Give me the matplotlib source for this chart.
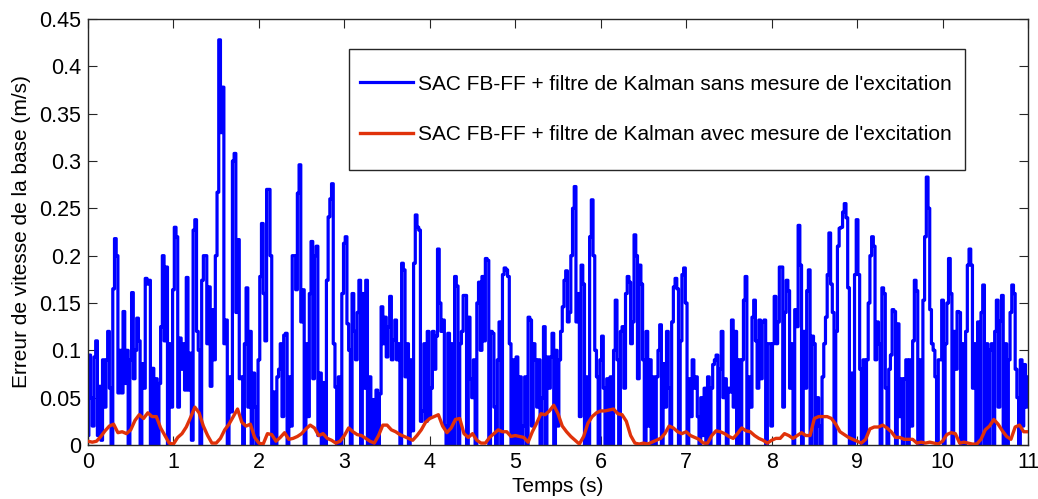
import numpy as np
import matplotlib
matplotlib.use("Agg")
import matplotlib.pyplot as plt
from matplotlib.patches import Rectangle

plt.rcParams['font.family'] = ['Liberation Sans', 'DejaVu Sans']

# Sampling steps of the two traces (s)
DT_BLUE = 0.02
DT_RED = 0.05

# Base velocity error without excitation measurement (m/s), one row per half second
err_sans = [
    0.01, 0.095, 0.05, 0.02, 0.093, 0.11, 0.01, 0.062, 0.005, 0.09, 0.04, 0.09, 0.12, 0.06, 0.0, 0.165, 0.218, 0.2, 0.055, 0.1, 0.055, 0.141, 0.065, 0.1, 0.0,
    0.09, 0.161, 0.07, 0.1, 0.134, 0.11, 0.0, 0.086, 0.06, 0.176, 0.17, 0.174, 0.0, 0.081, 0.0, 0.07, 0.0, 0.065, 0.125, 0.2, 0.11, 0.188, 0.0, 0.107, 0.04,
    0.164, 0.23, 0.22, 0.04, 0.113, 0.08, 0.107, 0.058, 0.177, 0.058, 0.097, 0.005, 0.227, 0.238, 0.12, 0.1, 0.0, 0.174, 0.2, 0.2, 0.107, 0.167, 0.062, 0.143, 0.09,
    0.2, 0.267, 0.428, 0.33, 0.378, 0.107, 0.132, 0.0, 0.072, 0.035, 0.3, 0.308, 0.14, 0.217, 0.07, 0.072, 0.0, 0.107, 0.166, 0.04, 0.12, 0.0, 0.076, 0.04, 0.0,
    0.09, 0.178, 0.234, 0.16, 0.11, 0.27, 0.27, 0.2, 0.0, 0.056, 0.0, 0.072, 0.08, 0.107, 0.03, 0.116, 0.118, 0.0, 0.072, 0.02, 0.2, 0.2, 0.164, 0.266, 0.296,
    0.13, 0.164, 0.0, 0.107, 0.03, 0.16, 0.215, 0.07, 0.2, 0.21, 0.01, 0.076, 0.0, 0.066, 0.0, 0.174, 0.241, 0.26, 0.276, 0.107, 0.061, 0.0, 0.072, 0.0, 0.16,
    0.213, 0.22, 0.128, 0.1, 0.0, 0.16, 0.12, 0.09, 0.14, 0.174, 0.0, 0.16, 0.06, 0.174, 0.0, 0.072, 0.0, 0.048, 0.0, 0.058, 0.0, 0.054, 0.146, 0.107, 0.135,
    0.093, 0.125, 0.157, 0.09, 0.111, 0.132, 0.09, 0.107, 0.0, 0.192, 0.185, 0.072, 0.107, 0.0, 0.09, 0.015, 0.192, 0.243, 0.23, 0.227, 0.025, 0.036, 0.107, 0.025, 0.12,
    0.03, 0.06, 0.12, 0.08, 0.115, 0.207, 0.15, 0.12, 0.132, 0.02, 0.0, 0.118, 0.0, 0.107, 0.0, 0.178, 0.168, 0.0, 0.107, 0.12, 0.158, 0.158, 0.0, 0.135, 0.07,
    0.05, 0.09, 0.0, 0.15, 0.172, 0.1, 0.178, 0.11, 0.197, 0.195, 0.0, 0.12, 0.118, 0.04, 0.0, 0.09, 0.13, 0.0, 0.18, 0.187, 0.185, 0.178, 0.107, 0.0, 0.09,
    0.0, 0.093, 0.0, 0.072, 0.0, 0.02, 0.072, 0.0, 0.135, 0.132, 0.02, 0.107, 0.09, 0.04, 0.09, 0.0, 0.05, 0.125, 0.0, 0.093, 0.06, 0.093, 0.118, 0.0, 0.1,
    0.02, 0.09, 0.12, 0.146, 0.174, 0.184, 0.13, 0.14, 0.2, 0.25, 0.273, 0.13, 0.16, 0.03, 0.19, 0.17, 0.0, 0.072, 0.0, 0.22, 0.259, 0.2, 0.1, 0.072, 0.0,
    0.09, 0.115, 0.06, 0.0, 0.07, 0.0, 0.072, 0.0, 0.1, 0.153, 0.09, 0.0, 0.12, 0.125, 0.06, 0.16, 0.178, 0.172, 0.107, 0.13, 0.222, 0.2, 0.07, 0.19, 0.17,
    0.09, 0.0, 0.12, 0.02, 0.09, 0.0, 0.072, 0.0, 0.072, 0.1, 0.127, 0.0, 0.086, 0.04, 0.12, 0.06, 0.0, 0.13, 0.167, 0.176, 0.165, 0.0, 0.11, 0.18, 0.187,
    0.15, 0.0, 0.07, 0.03, 0.09, 0.06, 0.072, 0.03, 0.0, 0.05, 0.01, 0.06, 0.0, 0.072, 0.0, 0.06, 0.085, 0.09, 0.095, 0.0, 0.08, 0.12, 0.05, 0.07, 0.0,
    0.06, 0.056, 0.132, 0.04, 0.12, 0.0, 0.09, 0.0, 0.09, 0.153, 0.178, 0.0, 0.072, 0.04, 0.135, 0.153, 0.11, 0.06, 0.132, 0.07, 0.13, 0.132, 0.0, 0.107, 0.107,
    0.02, 0.107, 0.157, 0.107, 0.13, 0.188, 0.188, 0.04, 0.14, 0.174, 0.163, 0.06, 0.107, 0.0, 0.143, 0.125, 0.232, 0.19, 0.0, 0.12, 0.06, 0.163, 0.185, 0.0, 0.115,
    0.107, 0.0, 0.05, 0.02, 0.0, 0.072, 0.107, 0.135, 0.18, 0.224, 0.17, 0.14, 0.0, 0.12, 0.21, 0.229, 0.23, 0.246, 0.255, 0.24, 0.166, 0.0, 0.076, 0.0, 0.18,
    0.238, 0.18, 0.08, 0.0, 0.09, 0.0, 0.09, 0.15, 0.2, 0.22, 0.21, 0.09, 0.13, 0.107, 0.0, 0.166, 0.16, 0.06, 0.0, 0.08, 0.095, 0.143, 0.141, 0.0, 0.128,
    0.03, 0.07, 0.0, 0.07, 0.09, 0.0, 0.09, 0.02, 0.11, 0.174, 0.163, 0.0, 0.09, 0.0, 0.153, 0.22, 0.283, 0.25, 0.143, 0.107, 0.1, 0.072, 0.0, 0.09, 0.09,
    0.153, 0.0, 0.107, 0.15, 0.197, 0.16, 0.0, 0.12, 0.08, 0.141, 0.14, 0.0, 0.107, 0.0, 0.12, 0.19, 0.207, 0.19, 0.06, 0.107, 0.0, 0.13, 0.0, 0.14, 0.169,
    0.0, 0.107, 0.0, 0.1, 0.107, 0.0, 0.12, 0.153, 0.04, 0.131, 0.158, 0.0, 0.107, 0.0, 0.09, 0.14, 0.169, 0.16, 0.08, 0.05, 0.0, 0.09, 0.02, 0.085, 0.04,
    0.072,
]

# Base velocity error with excitation measurement (m/s), one row per second
err_avec = [
    0.004, 0.003, 0.004, 0.009, 0.015, 0.02, 0.022, 0.013, 0.014, 0.012, 0.016, 0.026, 0.032, 0.028, 0.034, 0.03, 0.03, 0.018, 0.01, 0.002,
    0.001, 0.008, 0.012, 0.019, 0.029, 0.04, 0.034, 0.02, 0.01, 0.002, 0.002, 0.007, 0.016, 0.022, 0.03, 0.038, 0.024, 0.02, 0.022, 0.008,
    0.002, 0.001, 0.012, 0.011, 0.004, 0.008, 0.013, 0.006, 0.007, 0.009, 0.012, 0.017, 0.021, 0.018, 0.01, 0.012, 0.007, 0.005, 0.002, 0.004,
    0.01, 0.018, 0.014, 0.011, 0.01, 0.007, 0.004, 0.002, 0.01, 0.021, 0.021, 0.016, 0.014, 0.011, 0.009, 0.007, 0.005, 0.01, 0.016, 0.024,
    0.028, 0.03, 0.032, 0.02, 0.013, 0.018, 0.027, 0.028, 0.012, 0.008, 0.012, 0.005, 0.002, 0.002, 0.008, 0.012, 0.016, 0.014, 0.014, 0.009,
    0.01, 0.009, 0.008, 0.003, 0.014, 0.023, 0.033, 0.032, 0.036, 0.042, 0.033, 0.02, 0.014, 0.009, 0.005, 0.001, 0.009, 0.023, 0.03, 0.034,
    0.036, 0.036, 0.037, 0.038, 0.033, 0.032, 0.025, 0.01, 0.002, 0.001, 0.002, 0.001, 0.003, 0.005, 0.007, 0.012, 0.02, 0.018, 0.014, 0.012,
    0.014, 0.01, 0.008, 0.006, 0.002, 0.002, 0.01, 0.015, 0.014, 0.012, 0.009, 0.007, 0.012, 0.018, 0.015, 0.014, 0.01, 0.007, 0.005, 0.002,
    0.005, 0.007, 0.007, 0.012, 0.01, 0.007, 0.01, 0.013, 0.01, 0.01, 0.028, 0.03, 0.03, 0.03, 0.028, 0.022, 0.014, 0.011, 0.008, 0.006,
    0.004, 0.002, 0.006, 0.017, 0.019, 0.019, 0.021, 0.018, 0.014, 0.008, 0.008, 0.006, 0.006, 0.006, 0.002, 0.003, 0.002, 0.003, 0.002, 0.001,
    0.004, 0.011, 0.013, 0.012, 0.002, 0.003, 0.002, 0.001, 0.001, 0.006, 0.016, 0.02, 0.027, 0.022, 0.015, 0.009, 0.006, 0.019, 0.021, 0.014,
    0.014,
]

labels = ["SAC FB-FF + filtre de Kalman sans mesure de l'excitation",
          "SAC FB-FF + filtre de Kalman avec mesure de l'excitation"]

t_sans = np.arange(len(err_sans)) * DT_BLUE
t_avec = np.arange(len(err_avec)) * DT_RED

W, H = 1038, 499
fig = plt.figure(figsize=(W / 100, H / 100), dpi=100)
ax = fig.add_axes([88 / W, 54 / H, 940 / W, 426 / H])

l1, = ax.plot(t_sans, err_sans, color='#0000ff', lw=2.3, drawstyle='steps-mid', zorder=2)
l2, = ax.plot(t_avec, err_avec, color='#e0320a', lw=2.4, zorder=3)

ax.set_xlim(0, 11)
ax.set_ylim(0, 0.45)
ax.set_xticks(np.arange(0, 12, 1))
ax.set_yticks(np.arange(0, 0.46, 0.05))
ax.set_yticklabels(['0', '0.05', '0.1', '0.15', '0.2', '0.25', '0.3', '0.35', '0.4', '0.45'])
ax.tick_params(direction='in', top=True, right=True, length=6.5, width=0.8,
               labelsize=15.5, pad=5, color='0.15')
for s in ax.spines.values():
    s.set_color('0.15')
    s.set_linewidth(1.0)

ax.set_xlabel('Temps (s)', fontsize=15, labelpad=3)
ax.set_ylabel('Erreur de vitesse de la base (m/s)', fontsize=15, labelpad=6)

# legend box (MATLAB style, square corners)
ax.add_patch(Rectangle((0.2777, 0.6455), 0.6553, 0.2841, transform=ax.transAxes,
                       facecolor='white', edgecolor='0.15', lw=1.0, zorder=5))
leg = ax.legend([l1, l2], labels, loc='center left', bbox_to_anchor=(0.2894, 0.7876),
                frameon=False, fontsize=15, borderpad=0, borderaxespad=0,
                labelspacing=1.52, handlelength=2.55, handletextpad=0.25)
leg.set_zorder(6)

fig.savefig('out.png', dpi=100)
